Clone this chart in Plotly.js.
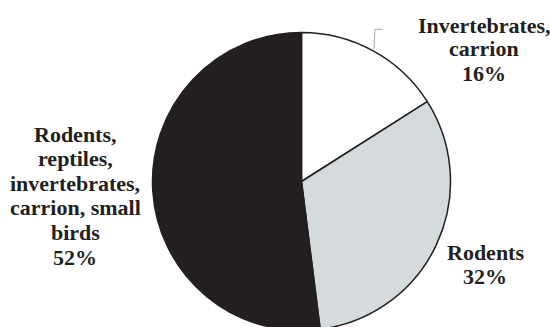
<!DOCTYPE html>
<html>
<head>
<meta charset="utf-8">
<script src="https://cdn.plot.ly/plotly-3.0.1.min.js"></script>
<style>
html, body { margin: 0; padding: 0; overflow: hidden; background: #fff; }
#chart { width: 550px; height: 331px; }
</style>
</head>
<body>
<div id="chart"></div>
<script>
// Data
const categories = ["Invertebrates,<br>carrion", "Rodents", "Rodents,<br>reptiles,<br>invertebrates,<br>carrion, small<br>birds"];
const values = [16, 32, 52];
const sliceColors = ["#ffffff", "#d5dadc", "#231f20"];

// Layout constants (pixels)
const W = 550, H = 331;
const labelAnchors = [
  { x: 484, y: 25, step: 24 },
  { x: 485, y: 252, step: 24.5 },
  { x: 75, y: 134, step: 24.6 }
];

const annotations = [];
categories.forEach((cat, i) => {
  const lines = cat.split("<br>").concat([values[i] + "%"]);
  const a = labelAnchors[i];
  lines.forEach((ln, j) => {
    annotations.push({
      text: ln,
      xref: "paper", yref: "paper",
      x: a.x / W, y: 1 - (a.y + j * a.step) / H,
      xanchor: "center", yanchor: "middle",
      showarrow: false,
      font: { family: "Liberation Serif", size: 22, weight: "bold", color: "#231f20" }
    });
  });
});

const cx = 301.5, cy = 181.5, r = 149;
const trace = {
  type: "pie",
  labels: categories,
  values: values,
  sort: false,
  direction: "clockwise",
  rotation: 0,
  textinfo: "none",
  hoverinfo: "skip",
  showlegend: false,
  marker: { colors: sliceColors, line: { color: "#231f20", width: 1.5 } },
  domain: { x: [(cx - r) / W, (cx + r) / W], y: [1 - (cy + r) / H, 1 - (cy - r) / H] }
};

const layout = {
  width: W, height: H,
  margin: { l: 0, r: 0, t: 0, b: 0 },
  paper_bgcolor: "#ffffff",
  showlegend: false,
  annotations: annotations,
  shapes: [{
    type: "path", xref: "paper", yref: "paper",
    path: "M " + (383 / W) + " " + (1 - 29.3 / H) + " L " + (375 / W) + " " + (1 - 29.3 / H) + " L " + (374 / W) + " " + (1 - 49 / H),
    line: { color: "#aaaaaa", width: 1 }
  }]
};

Plotly.newPlot("chart", [trace], layout, { staticPlot: true, displayModeBar: false });
</script>
</body>
</html>
